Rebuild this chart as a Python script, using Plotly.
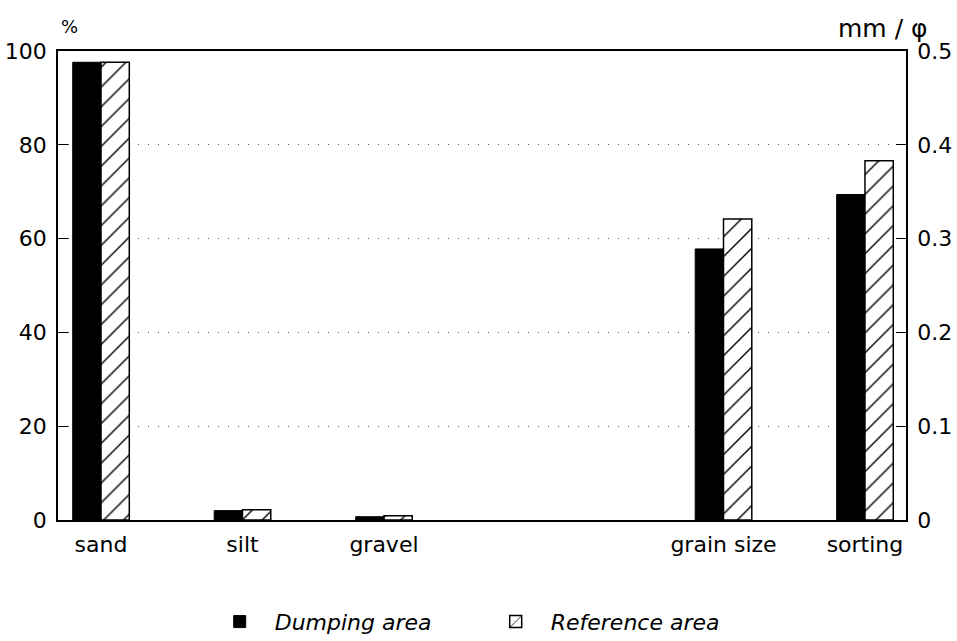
import plotly.graph_objects as go

# Data
pct_categories = ["sand", "silt", "gravel"]
pct_positions = [0, 1, 2]
dumping_pct = [97.6, 2.0, 0.7]
reference_pct = [97.6, 2.2, 0.9]

mm_categories = ["grain size", "sorting"]
mm_positions = [4.4, 5.4]
dumping_mm = [0.289, 0.347]
reference_mm = [0.321, 0.383]

left_ticks = [0, 20, 40, 60, 80, 100]
right_ticks = [0, 0.1, 0.2, 0.3, 0.4, 0.5]

FONT = "DejaVu Sans"
BW = 0.2

black_marker = dict(color="black", line=dict(color="black", width=1))
hatch_marker = dict(color="white",
                    pattern=dict(shape="/", fgcolor="black", bgcolor="white",
                                 fgopacity=1, size=14, solidity=0.1),
                    line=dict(color="black", width=1.5))

fig = go.Figure()
fig.add_trace(go.Bar(x=pct_positions, y=dumping_pct, width=BW, offset=-BW,
                     marker=black_marker, name="Dumping area",
                     legendgroup="d", yaxis="y"))
fig.add_trace(go.Bar(x=pct_positions, y=reference_pct, width=BW, offset=0,
                     marker=hatch_marker, name="Reference area",
                     legendgroup="r", yaxis="y"))
fig.add_trace(go.Bar(x=mm_positions, y=dumping_mm, width=BW, offset=-BW,
                     marker=black_marker, name="Dumping area",
                     legendgroup="d", showlegend=False, yaxis="y2"))
fig.add_trace(go.Bar(x=mm_positions, y=reference_mm, width=BW, offset=0,
                     marker=hatch_marker, name="Reference area",
                     legendgroup="r", showlegend=False, yaxis="y2"))

fig.update_layout(
    width=957, height=641,
    margin=dict(l=58, r=51, t=51, b=121, autoexpand=False),
    paper_bgcolor="white", plot_bgcolor="white",
    font=dict(family=FONT, size=22, color="black"),
    barmode="overlay",
    xaxis=dict(range=[-0.304, 5.69],
               tickvals=pct_positions + mm_positions,
               ticktext=pct_categories + mm_categories,
               ticks="", showgrid=False, zeroline=False,
               showline=True, linecolor="black", linewidth=1.5, mirror=True,
               ticklabelstandoff=4, automargin=False,
               tickfont=dict(size=22)),
    yaxis=dict(range=[0, 100], tickvals=left_ticks,
               ticks="inside", ticklen=10, tickcolor="black",
               showline=True, linecolor="black", linewidth=1.5,
               showgrid=True, gridcolor="#555555", gridwidth=1, griddash="1px,9px",
               zeroline=False, ticklabelstandoff=5, automargin=False,
               tickfont=dict(size=22)),
    yaxis2=dict(range=[0, 0.5], tickvals=right_ticks,
                ticktext=["0", "0.1", "0.2", "0.3", "0.4", "0.5"],
                overlaying="y", side="right",
                ticks="inside", ticklen=10, tickcolor="black",
                showline=True, linecolor="black", linewidth=1.5,
                showgrid=False, zeroline=False, ticklabelstandoff=5,
                automargin=False, tickfont=dict(size=22)),
    legend=dict(orientation="h", x=0.173, xanchor="left", y=-0.217, yanchor="middle",
                font=dict(size=22, style="italic"), itemwidth=60,
                entrywidthmode="pixels", entrywidth=201),
    showlegend=True,
    annotations=[
        dict(text="%", xref="paper", yref="paper", x=0.0, y=1.0,
             xanchor="left", yanchor="bottom", yshift=12, xshift=1,
             showarrow=False, font=dict(size=18)),
        dict(text="mm / φ", xref="paper", yref="paper", x=1.0, y=1.0,
             xanchor="right", yanchor="bottom", yshift=6, xshift=24,
             showarrow=False, font=dict(size=25)),
    ],
)

fig.write_html("out.html")
